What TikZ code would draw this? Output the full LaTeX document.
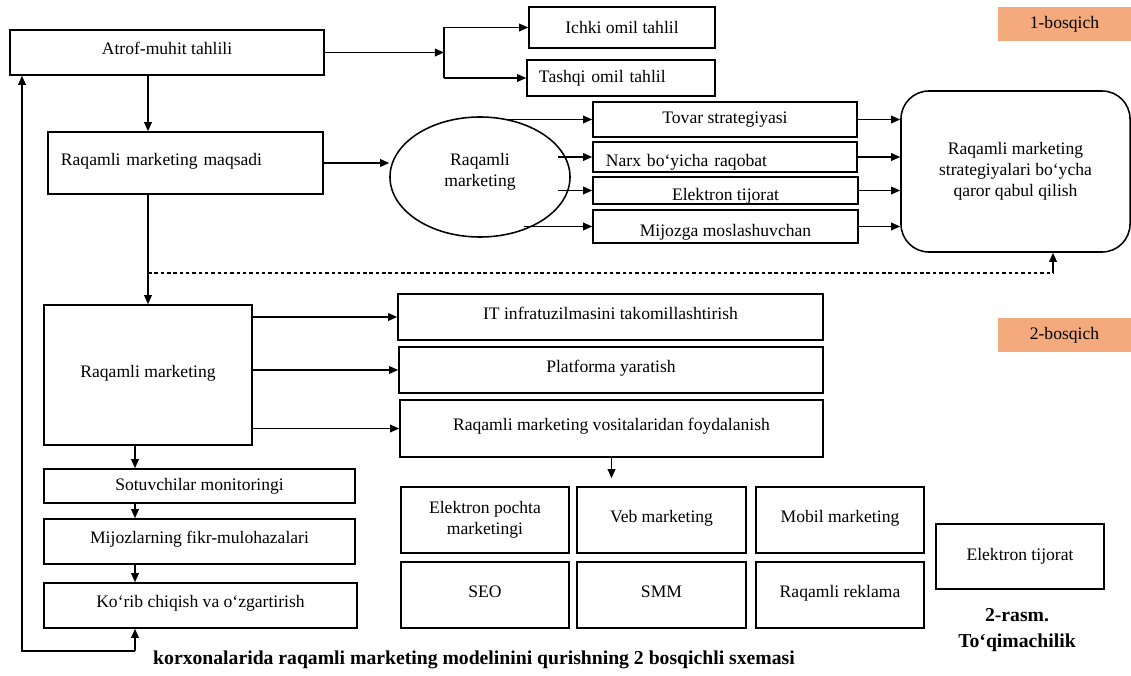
\documentclass[tikz,border=0pt]{standalone}
\usepackage{fontspec}
\setmainfont{Liberation Serif}
\usetikzlibrary{arrows.meta, shapes.geometric, positioning}
\definecolor{stageorange}{RGB}{244,170,125}

\begin{document}
\begin{tikzpicture}[x=0.025cm, y=-0.025cm, >={Triangle[length=6.5pt,width=5.5pt]},
    box/.style={draw, line width=1.1pt, inner sep=0pt, align=center, font=\fontsize{12.5}{15}\selectfont},
    raised/.style={text height=9pt, text depth=5.9pt},
    lowtext/.style={text height=14pt, text depth=0pt},
    stage/.style={fill=stageorange, inner sep=0pt, minimum width=3.325cm, minimum height=0.85cm, font=\fontsize{12.5}{15}\selectfont},
    conn/.style={->, line width=1pt},
    capt/.style={font=\fontsize{14}{18.5}\selectfont\bfseries, align=center}]

    \useasboundingbox (0,0) rectangle (1131,676);

    % Stage 1 boxes
    \node[box, raised, minimum width=7.85cm, minimum height=1.125cm] (atrof) at (167,52.5) {Atrof-muhit tahlili};
    \node[box, minimum width=4.65cm, minimum height=1.025cm] (ichki) at (622,27.5) {Ichki omil tahlil};
    \node[box, text width=4.1cm, align=left, minimum width=4.7cm, minimum height=0.9cm] (tashqi) at (621,78) {Tashqi omil tahlil};
    \node[stage] (bosq1) at (1064.5,24) {1-bosqich};
    \node[box, raised, text width=6.225cm, align=left, minimum width=6.875cm, minimum height=1.55cm] (maqsad) at (185.5,163) {Raqamli marketing maqsadi};
    \node[box, ellipse, text depth=10pt, minimum width=4.5cm, minimum height=3cm] (rm1) at (480,177) {Raqamli\\marketing};

    % Strategies
    \node[box, minimum width=6.6cm, minimum height=0.875cm] (tovar) at (725,119.5) {Tovar strategiyasi};
    \node[box, lowtext, text width=5.95cm, align=left, minimum width=6.6cm, minimum height=0.75cm] (narx) at (725,157) {Narx bo‘yicha raqobat};
    \node[box, lowtext, minimum width=6.625cm, minimum height=0.675cm] (elek1) at (725.5,190.5) {Elektron tijorat};
    \node[box, lowtext, minimum width=6.625cm, minimum height=0.825cm] (mijoz) at (725.5,226.5) {Mijozga moslashuvchan};
    \node[box, rounded corners=0.7cm, minimum width=5.725cm, minimum height=4.025cm] (qaror) at (1015.5,171.5) {Raqamli marketing\\strategiyalari bo‘ycha\\qaror qabul qilish};

    % Stage 2 boxes
    \node[box, raised, minimum width=5.2cm, minimum height=3.5cm] (rm2) at (148,375) {Raqamli marketing};
    \node[box, raised, minimum width=10.625cm, minimum height=1.15cm] (infra) at (610.5,317) {IT infratuzilmasini takomillashtirish};
    \node[box, raised, minimum width=10.6cm, minimum height=1.15cm] (platf) at (611,370) {Platforma yaratish};
    \node[box, raised, minimum width=10.575cm, minimum height=1.425cm] (vosit) at (611.5,428.5) {Raqamli marketing vositalaridan foydalanish};
    \node[stage] (bosq2) at (1064.5,335) {2-bosqich};

    % Feedback column
    \node[box, minimum width=7.775cm, minimum height=0.85cm] (sotuv) at (199.5,486) {Sotuvchilar monitoringi};
    \node[box, raised, minimum width=7.775cm, minimum height=1.125cm] (fikr) at (199.5,541.5) {Mijozlarning fikr-mulohazalari};
    \node[box, raised, minimum width=7.825cm, minimum height=1.125cm] (korib) at (200.5,605.5) {Ko‘rib chiqish va o‘zgartirish};

    % Tools
    \node[box, minimum width=4.2cm, minimum height=1.65cm] (pochta) at (485,520) {Elektron pochta\\marketingi};
    \node[box, raised, minimum width=4.225cm, minimum height=1.65cm] (veb) at (661.5,520) {Veb marketing};
    \node[box, raised, minimum width=4.2cm, minimum height=1.65cm] (mobil) at (840,520) {Mobil marketing};
    \node[box, raised, minimum width=4.2cm, minimum height=1.65cm] (seo) at (485,595) {SEO};
    \node[box, raised, minimum width=4.225cm, minimum height=1.65cm] (smm) at (661.5,595) {SMM};
    \node[box, raised, minimum width=4.2cm, minimum height=1.65cm] (reklama) at (840,595) {Raqamli reklama};
    \node[box, minimum width=4.2cm, minimum height=1.625cm] (elek2) at (1020,556.5) {Elektron tijorat};

    % Caption
    \node[capt] (rasm) at (1017,630) {2-rasm.\\To‘qimachilik};
    \node[capt] (sxema) at (474,660) {korxonalarida raqamli marketing modelinini qurishning 2 bosqichli sxemasi};

    % Arrows, stage 1
    \coordinate (split) at (444,53);
    \draw[conn] (atrof.east) -- (atrof.east -| split);
    \draw[line width=1pt] (split |- ichki.west) -- (split |- tashqi.west);
    \draw[conn] (split |- ichki.west) -- (ichki.west);
    \draw[conn] (split |- tashqi.west) -- (tashqi.west);
    \draw[conn] (atrof.south -| rm2.north) -- (maqsad.north -| rm2.north);
    \draw[conn] (maqsad.east) -- (maqsad.east -| rm1.west);

    \coordinate (tovs) at (507,119.5);
    \coordinate (narxs) at (558,157);
    \coordinate (eleks) at (558,190.5);
    \coordinate (mijs) at (524,226.5);
    \draw[conn] (tovs) -- (tovar.west);
    \draw[conn] (narxs) -- (narx.west);
    \draw[conn] (eleks) -- (elek1.west);
    \draw[conn] (mijs) -- (mijoz.west);
    \draw[conn] (tovar.east) -- (tovar.east -| qaror.west);
    \draw[conn] (narx.east) -- (narx.east -| qaror.west);
    \draw[conn] (elek1.east) -- (elek1.east -| qaror.west);
    \draw[conn] (mijoz.east) -- (mijoz.east -| qaror.west);

    % Dashed link
    \coordinate (dsh) at (148,273);
    \coordinate (dshr) at (1053,273);
    \draw[line width=1pt, dash pattern=on 2.5pt off 2pt] (dsh) -- (dshr);
    \draw[conn] (dshr) -- (dshr |- qaror.south);

    % Arrows, stage 2
    \draw[conn] (maqsad.south -| rm2.north) -- (rm2.north);
    \draw[conn] (rm2.east |- infra.west) -- (infra.west);
    \draw[conn] (rm2.east |- platf.west) -- (platf.west);
    \draw[conn] (rm2.east |- vosit.west) -- (vosit.west);
    \draw[conn, shorten >=0.2cm] (vosit.south) -- (vosit.south |- veb.north);

    % Feedback loop
    \coordinate (loopr) at (135,651);
    \coordinate (loopl) at (22,651);
    \draw[conn] (rm2.south -| loopr) -- (sotuv.north -| loopr);
    \draw[conn] (sotuv.south -| loopr) -- (fikr.north -| loopr);
    \draw[conn] (fikr.south -| loopr) -- (korib.north -| loopr);
    \draw[conn] (loopr) -- (korib.south -| loopr);
    \draw[conn] (loopr) -- (loopl) -- (loopl |- atrof.south);
\end{tikzpicture}
\end{document}
